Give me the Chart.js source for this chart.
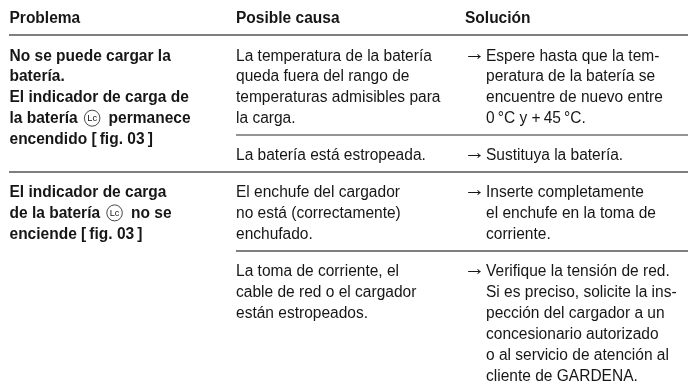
<!DOCTYPE html>
<html lang="es">
<head>
<meta charset="utf-8">
<title>Problema, posible causa, solución</title>
<script src="https://cdn.jsdelivr.net/npm/chart.js@4"></script>
<style>
  html, body { margin: 0; background: #fff; }
  canvas { display: block; }
</style>
</head>
<body>
<canvas id="myChart" width="688" height="386"></canvas>
<script>
// texts of the table, one entry per printed line. {Lc} is the circled symbol
const headers = ['Problema', 'Posible causa', 'Solución'];

const problems = [
  ['No se puede cargar la', 'batería.', 'El indicador de carga de', 'la batería {Lc} permanece', 'encendido [\u2009fig. 03\u2009]'],
  ['El indicador de carga', 'de la batería {Lc} no se', 'enciende [\u2009fig. 03\u2009]']
];

const causes = [
  ['La temperatura de la batería', 'queda fuera del rango de', 'temperaturas admisibles para', 'la carga.'],
  ['La batería está estropeada.'],
  ['El enchufe del cargador', 'no está (correctamente)', 'enchufado.'],
  ['La toma de corriente, el', 'cable de red o el cargador', 'están estropeados.']
];

const solutions = [
  ['Espere hasta que la tem-', 'peratura de la batería se', 'encuentre de nuevo entre', '0\u2009°C y +\u200945\u2009°C.'],
  ['Sustituya la batería.'],
  ['Inserte completamente', 'el enchufe en la toma de', 'corriente.'],
  ['Verifique la tensión de red.', 'Si es preciso, solicite la ins-', 'pección del cargador a un', 'concesionario autorizado', 'o al servicio de atención al', 'cliente de GARDENA.']
];

// row baselines
const problemRows = [60.5, 197];
const causeRows = [60.5, 160, 197, 276];

// rules under the rows
const ruleLevels = [35, 135, 172, 251];
const ruleStarts = [9, 236, 9, 236];
const ruleEnds = [688, 688, 688, 688];
const ruleWidths = [2, 1, 2, 2];
const ruleColors = ['#7f7f7f', '#2b2b2b', '#7f7f7f', '#7f7f7f'];

const colX = [9.5, 236, 486];
const arrowX = 465;
const lineStep = 20.9;
const ink = '#161616';
const regular = '16px "Liberation Sans", sans-serif';
const bold = 'bold 16px "Liberation Sans", sans-serif';
const squeeze = 0.97;

function drawLine(ctx, text, px, py, font) {
  ctx.save();
  ctx.font = font;
  ctx.translate(px, py);
  ctx.scale(squeeze, 1);
  const parts = text.split('{Lc}');
  let cur = 0;
  parts.forEach((part, i) => {
    ctx.fillText(part, cur, 0);
    cur += ctx.measureText(part).width;
    if (i < parts.length - 1) {
      // circled Lc
      const r = 8;
      ctx.save();
      ctx.lineWidth = 0.8;
      ctx.strokeStyle = ink;
      ctx.beginPath();
      ctx.arc(cur + r + 2.5, -5, r, 0, Math.PI * 2);
      ctx.stroke();
      ctx.font = '9.5px "Liberation Sans", sans-serif';
      ctx.textAlign = 'center';
      ctx.fillText('Lc', cur + r + 2.5, -1.8);
      ctx.restore();
      ctx.font = font;
      cur += 2 * r + 7;
    }
  });
  ctx.restore();
}

const tableText = {
  id: 'tableText',
  afterDraw(chart) {
    const ctx = chart.ctx;
    const sx = chart.scales.x;
    const sy = chart.scales.y;
    ctx.save();
    ctx.fillStyle = ink;
    ctx.textBaseline = 'alphabetic';

    headers.forEach((h, i) => {
      drawLine(ctx, h, sx.getPixelForValue(colX[i] - (i === 2 ? 21 : 0)), sy.getPixelForValue(23), bold);
    });

    problems.forEach((lines, r) => {
      lines.forEach((l, i) => {
        drawLine(ctx, l, sx.getPixelForValue(colX[0]), sy.getPixelForValue(problemRows[r] + i * lineStep), bold);
      });
    });

    causes.forEach((lines, r) => {
      lines.forEach((l, i) => {
        drawLine(ctx, l, sx.getPixelForValue(colX[1]), sy.getPixelForValue(causeRows[r] + i * lineStep), regular);
      });
    });

    solutions.forEach((lines, r) => {
      lines.forEach((l, i) => {
        const py = sy.getPixelForValue(causeRows[r] + i * lineStep);
        if (i === 0) drawLine(ctx, '\u2192', sx.getPixelForValue(arrowX - 1), py - 1, '22px "Liberation Sans", sans-serif');
        drawLine(ctx, l, sx.getPixelForValue(colX[2]), py, regular);
      });
    });
    ctx.restore();
  }
};

const ctx = document.getElementById('myChart').getContext('2d');
const myChart = new Chart(ctx, {
  type: 'scatter',
  data: {
    datasets: ruleLevels.map((level, i) => ({
      data: [{ x: ruleStarts[i], y: level }, { x: ruleEnds[i], y: level }],
      showLine: true,
      pointRadius: 0,
      borderWidth: ruleWidths[i],
      borderColor: ruleColors[i]
    }))
  },
  options: {
    responsive: false,
    animation: false,
    layout: { padding: 0 },
    plugins: { legend: { display: false }, tooltip: { enabled: false } },
    scales: {
      x: { type: 'linear', display: false, min: 0, max: 688 },
      y: { type: 'linear', display: false, min: 0, max: 386, reverse: true }
    }
  },
  plugins: [tableText]
});
</script>
</body>
</html>
